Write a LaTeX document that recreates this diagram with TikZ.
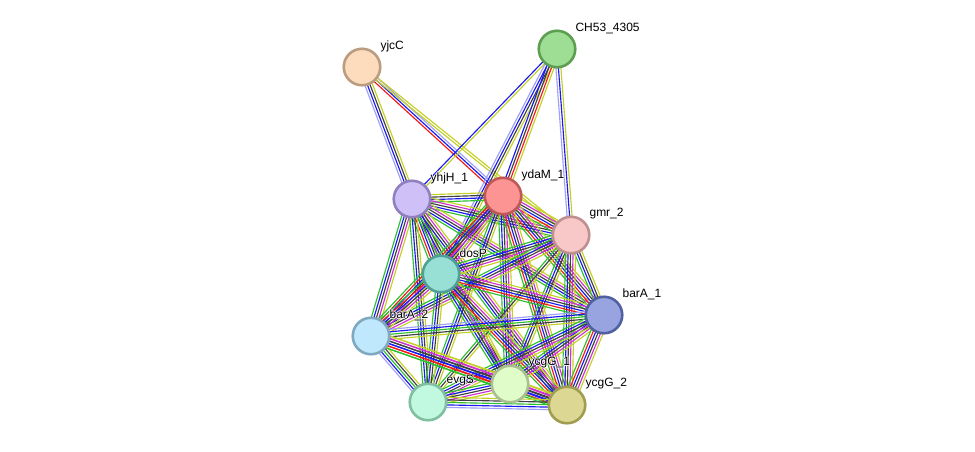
\documentclass[tikz,border=0pt]{standalone}
\usepackage{fontspec}
\setmainfont{Liberation Sans}
\usetikzlibrary{calc,backgrounds}
\definecolor{sgreen}{HTML}{2DC02D}
\definecolor{sred}{HTML}{F21A1A}
\definecolor{sblue}{HTML}{1A1AF0}
\definecolor{slblue}{HTML}{A0A0F8}
\definecolor{sblack}{HTML}{404040}
\definecolor{smag}{HTML}{D030D0}
\definecolor{syel}{HTML}{C4D028}
\newcommand\bundle[3]{\foreach \cc/\oo in #3 {\draw[\cc] ($(#1)!\oo pt!90:(#2)$) -- ($(#2)!\oo pt!-90:(#1)$);}}
\newcommand\halo[1]{\makebox[0pt][l]{\color{white}\kern-0.9pt#1}\makebox[0pt][l]{\color{white}\kern0.9pt#1}\makebox[0pt][l]{\color{white}\raisebox{0.9pt}{#1}}\makebox[0pt][l]{\color{white}\raisebox{-0.9pt}{#1}}#1}
\def\Lsix{sgreen/-6.25,sred/-3.75,sblue/-1.25,sblack/1.25,smag/3.75,syel/6.25}
\def\Lfive{sgreen/-5,sblue/-2.5,sblack/0,smag/2.5,syel/5}
\def\Lfour{sgreen/-3.75,sblue/-1.25,sblack/1.25,syel/3.75}
\def\Lgky{sgreen/-2.5,sblack/0,syel/2.5}
\def\Lbl{slblue/-5,sblue/-2.5,sgreen/0,sblack/2.5,syel/5}
\tikzset{
  prot/.style={circle, minimum size=36.5pt, inner sep=0pt, line width=2.6pt},
  lab/.style={anchor=west, inner sep=0pt, font=\fontsize{12}{14}\selectfont},
  every path/.style={line width=1.15pt}
}
\begin{document}
\begin{tikzpicture}[x=1pt,y=-1pt]
\useasboundingbox (0,0) rectangle (975,451);
\node[prot, fill={rgb,255:red,253;green,220;blue,189}, draw={rgb,255:red,188;green,156;blue,128}] (yjcC) at (362,67) {};
\node[prot, fill={rgb,255:red,158;green,222;blue,148}, draw={rgb,255:red,94;green,158;blue,80}] (CH) at (557,49) {};
\node[prot, fill={rgb,255:red,208;green,192;blue,248}, draw={rgb,255:red,144;green,128;blue,192}] (Y) at (412,199) {};
\node[prot, fill={rgb,255:red,252;green,148;blue,148}, draw={rgb,255:red,192;green,88;blue,88}] (D) at (503,196) {};
\node[prot, fill={rgb,255:red,248;green,200;blue,200}, draw={rgb,255:red,192;green,144;blue,144}] (G) at (571,235) {};
\node[prot, fill={rgb,255:red,152;green,224;blue,214}, draw={rgb,255:red,80;green,160;blue,152}] (P) at (441,274) {};
\node[prot, fill={rgb,255:red,152;green,164;blue,224}, draw={rgb,255:red,80;green,96;blue,160}] (A1) at (604,315) {};
\node[prot, fill={rgb,255:red,192;green,232;blue,252}, draw={rgb,255:red,128;green,168;blue,192}] (A2) at (371,336) {};
\node[prot, fill={rgb,255:red,224;green,252;blue,200}, draw={rgb,255:red,168;green,192;blue,144}] (C1) at (510,384) {};
\node[prot, fill={rgb,255:red,192;green,248;blue,224}, draw={rgb,255:red,128;green,192;blue,160}] (E) at (428,402) {};
\node[prot, fill={rgb,255:red,220;green,216;blue,148}, draw={rgb,255:red,160;green,156;blue,80}] (C2) at (567,405) {};
\node[lab] (lyjcC) at ($(yjcC)+(18,-21)$) {\halo{yjcC}};
\node[lab] (lCH) at ($(CH)+(18,-21)$) {\halo{CH53\_4305}};
\node[lab] (lY) at ($(Y)+(18,-21)$) {\halo{yhjH\_1}};
\node[lab] (lD) at ($(D)+(18,-21)$) {\halo{ydaM\_1}};
\node[lab] (lG) at ($(G)+(18,-21)$) {\halo{gmr\_2}};
\node[lab] (lP) at ($(P)+(18,-21)$) {\halo{dosP}};
\node[lab] (lA1) at ($(A1)+(18,-21)$) {\halo{barA\_1}};
\node[lab] (lA2) at ($(A2)+(18,-21)$) {\halo{barA\_2}};
\node[lab] (lC1) at ($(C1)+(18,-21)$) {\halo{ycgG\_1}};
\node[lab] (lE) at ($(E)+(18,-21)$) {\halo{evgS}};
\node[lab] (lC2) at ($(C2)+(18,-21)$) {\halo{ycgG\_2}};
\begin{pgfonlayer}{background}
\bundle{yjcC}{Y}{{slblue/-3.75,sblue/-1.25,sblack/1.25,syel/3.75}}
\bundle{yjcC}{D}{{sred/-2.5,sblue/0,slblue/2.5}}
\bundle{yjcC}{G}{{syel/-1.25,syel/1.25}}
\bundle{CH}{Y}{{sblue/-1.25,syel/1.25}}
\bundle{CH}{P}{{slblue/-3.75,sblue/-1.25,sblack/1.25,syel/3.75}}
\bundle{CH}{D}{{sblue/-3.75,sblack/-1.25,sred/1.25,syel/3.75}}
\bundle{CH}{G}{{slblue/-2.5,sblue/0,syel/2.5}}
\bundle{Y}{D}{\Lfour}
\bundle{Y}{G}{\Lfive}
\bundle{Y}{P}{\Lsix}
\bundle{Y}{A1}{\Lfive}
\bundle{Y}{A2}{\Lfive}
\bundle{Y}{C1}{\Lfour}
\bundle{Y}{E}{\Lfour}
\bundle{Y}{C2}{\Lfive}
\bundle{D}{G}{\Lsix}
\bundle{D}{P}{\Lsix}
\bundle{D}{A1}{\Lsix}
\bundle{D}{A2}{\Lsix}
\bundle{D}{C1}{\Lfive}
\bundle{D}{E}{\Lfour}
\bundle{D}{C2}{\Lsix}
\bundle{G}{P}{\Lfive}
\bundle{G}{A1}{\Lfour}
\bundle{G}{A2}{\Lfive}
\bundle{G}{C1}{\Lfour}
\bundle{G}{E}{\Lgky}
\bundle{G}{C2}{\Lfive}
\bundle{P}{A1}{\Lsix}
\bundle{P}{A2}{\Lsix}
\bundle{P}{C1}{\Lfive}
\bundle{P}{E}{\Lfour}
\bundle{P}{C2}{\Lsix}
\bundle{A1}{A2}{\Lbl}
\bundle{A1}{C1}{\Lfive}
\bundle{A1}{E}{\Lfive}
\bundle{A1}{C2}{\Lsix}
\bundle{A2}{C1}{\Lsix}
\bundle{A2}{E}{\Lbl}
\bundle{A2}{C2}{\Lsix}
\bundle{C1}{E}{\Lfive}
\bundle{C1}{C2}{\Lfive}
\bundle{E}{C2}{\Lbl}
\end{pgfonlayer}
\end{tikzpicture}
\end{document}
